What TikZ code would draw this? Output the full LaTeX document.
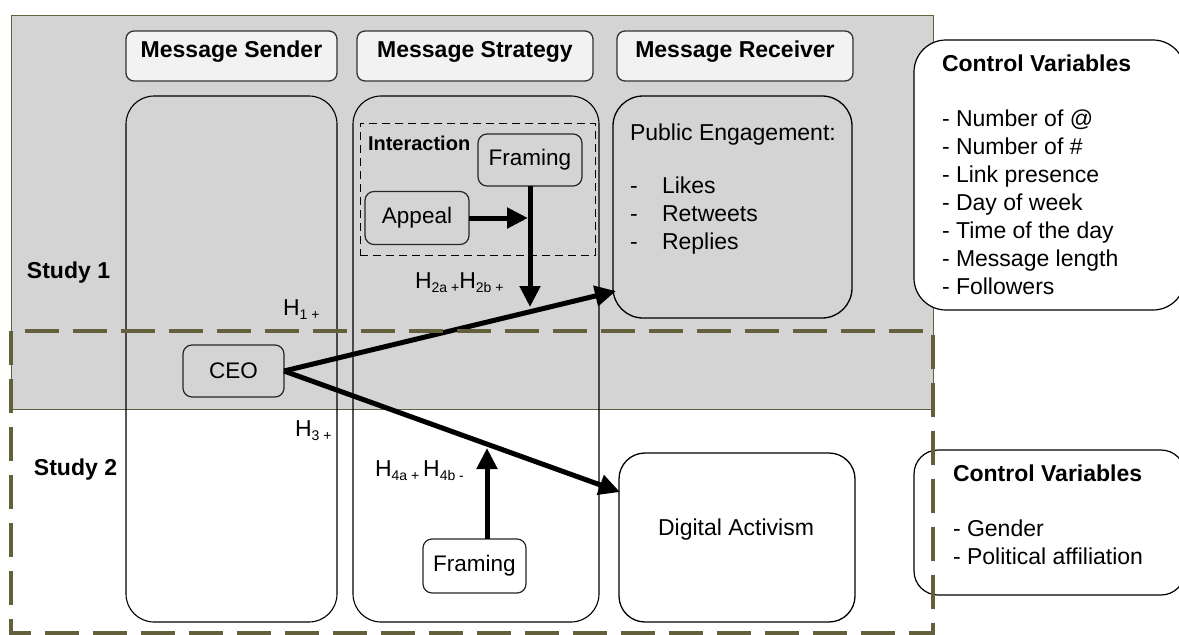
\documentclass[tikz,border=0pt]{standalone}
\usepackage{fontspec}
\setmainfont{Liberation Sans}
\usetikzlibrary{arrows.meta}
\definecolor{bggray}{RGB}{212,212,212}
\definecolor{hdrfill}{RGB}{242,242,242}
\definecolor{olivedash}{RGB}{100,96,60}
\newcommand\mysubs[1]{\raisebox{-4pt}{\fontsize{14}{14}\selectfont #1}}
\begin{document}
\begin{tikzpicture}[x=1pt,y=-1pt,
  every node/.style={inner sep=0pt, outer sep=0pt},
  txt/.style={font=\fontsize{23}{27}\selectfont, anchor=base west},
  btxt/.style={font=\fontsize{23}{27}\selectfont\bfseries, anchor=base west},
  hdrtxt/.style={font=\fontsize{23}{27}\selectfont\bfseries, anchor=base},
  hdr/.style={draw=black!80, line width=1.3pt, fill=hdrfill, rounded corners=8pt, minimum height=50pt},
  col/.style={draw=black, line width=1.1pt, rounded corners=28pt, minimum height=526pt},
  rbox/.style={draw=black, line width=1.3pt},
  smallbox/.style={draw=black!85, line width=1.2pt, rounded corners=9pt, font=\fontsize{22.5}{26}\selectfont},
  cvbox/.style={draw=black, line width=1.2pt, fill=white, minimum width=271pt},
  bigarrow/.style={line width=5pt, -{Triangle[length=21pt,width=20pt]}},
]
\useasboundingbox (0,0) rectangle (1179,635);
\clip (0,0) rectangle (1179,635);
% Study 1 background
\fill[bggray] (11,15) rectangle (933,409);
\draw[olivedash, line width=1pt] (11,409) -- (11,15) -- (933,15) -- (933,409) -- (11,409);
% control variable boxes
\node[cvbox, rounded corners=32pt, minimum height=270pt] (cv1) at (1049.5,175) {};
\node[cvbox, rounded corners=24pt, minimum height=145pt] (cv2) at (1049.5,522.5) {};
\node[btxt] (cv1t) at (942,71) {Control Variables};
\node[txt] (cv1a) at (942,126) {- Number of @};
\node[txt] (cv1b) at (942,154) {- Number of \#};
\node[txt] (cv1c) at (942,182) {- Link presence};
\node[txt] (cv1d) at (942,210) {- Day of week};
\node[txt] (cv1e) at (942,238) {- Time of the day};
\node[txt] (cv1f) at (942,266) {- Message length};
\node[txt] (cv1g) at (942,294) {- Followers};
\node[btxt] (cv2t) at (953,481) {Control Variables};
\node[txt] (cv2a) at (953,536) {- Gender};
\node[txt] (cv2b) at (953,564) {- Political affiliation};
% headers
\node[hdr, minimum width=211pt] (hs) at (231.5,56) {};
\node[hdr, minimum width=236pt] (hst) at (475,56) {};
\node[hdr, minimum width=236pt] (hr) at (735,56) {};
\node[hdrtxt] (hst1) at (231.5,57) {Message Sender};
\node[hdrtxt] (hst2) at (475,57) {Message Strategy};
\node[hdrtxt] (hst3) at (735,57) {Message Receiver};
% columns
\node[col, minimum width=211pt] (cs) at (231.5,359) {};
\node[col, minimum width=246pt] (cst) at (476,359) {};
\node[rbox, rounded corners=30pt, minimum width=239pt, minimum height=222pt] (pe) at (732.5,207) {};
\node[rbox, rounded corners=26pt, minimum width=236pt, minimum height=169pt] (da) at (737,537.5) {};
% receiver texts
\node[txt] (pet) at (630,140) {Public Engagement:};
\node[txt] (pe1d) at (630,193) {-};
\node[txt] (pe1) at (662,193) {Likes};
\node[txt] (pe2d) at (630,221) {-};
\node[txt] (pe2) at (662,221) {Retweets};
\node[txt] (pe3d) at (630,249) {-};
\node[txt] (pe3) at (662,249) {Replies};
\node[font=\fontsize{23}{27}\selectfont, anchor=base] (dat) at (736,535) {Digital Activism};
% interaction
\node[draw=black, line width=1pt, dash pattern=on 8pt off 5pt, minimum width=235pt, minimum height=132pt] (inter) at (477.5,189) {};
\node[font=\fontsize{20}{24}\selectfont\bfseries, anchor=base west] (intt) at (368,150) {Interaction};
\node[smallbox, minimum width=104pt, minimum height=52pt] (fr1) at (530,160) {Framing};
\node[smallbox, minimum width=104pt, minimum height=53pt] (ap) at (417,218) {Appeal};
\node[smallbox, minimum width=101pt, minimum height=52pt] (ceo) at (233.5,371) {CEO};
\node[smallbox, minimum width=103pt, minimum height=54pt] (fr2) at (474.5,566) {Framing};
% study labels
\node[btxt] (s1) at (27,278) {Study 1};
\node[btxt] (s2) at (34,475) {Study 2};
% hypothesis labels
\node[txt] (h1) at (283,315) {H\mysubs{1 +}};
\node[txt] (h3) at (295,436) {H\mysubs{3 +}};
\node[txt] (h2) at (415,288) {H\mysubs{2a +}H\mysubs{2b +}};
\node[txt] (h4) at (375,476) {H\mysubs{4a + }H\mysubs{4b -}};
% arrow endpoints
\coordinate (apTip) at (528,218);
\coordinate (fr1Tip) at (530,307);
\coordinate (peIn) at (616,291);
\coordinate (daIn) at (620,492);
\coordinate (fr2Tip) at (487,448);
% arrows
\draw[bigarrow] (ap.east) -- (apTip);
\draw[bigarrow] (fr1.south) -- (fr1Tip);
\draw[bigarrow] (ceo.east) -- (peIn);
\draw[bigarrow] (ceo.east) -- (daIn);
\draw[bigarrow] (fr2.north -| fr2Tip) -- (fr2Tip);
% Study 2 dashed frame
\draw[olivedash, line width=3.5pt, dash pattern=on 34pt off 14pt] (11,331) rectangle (933,633);
\end{tikzpicture}
\end{document}
